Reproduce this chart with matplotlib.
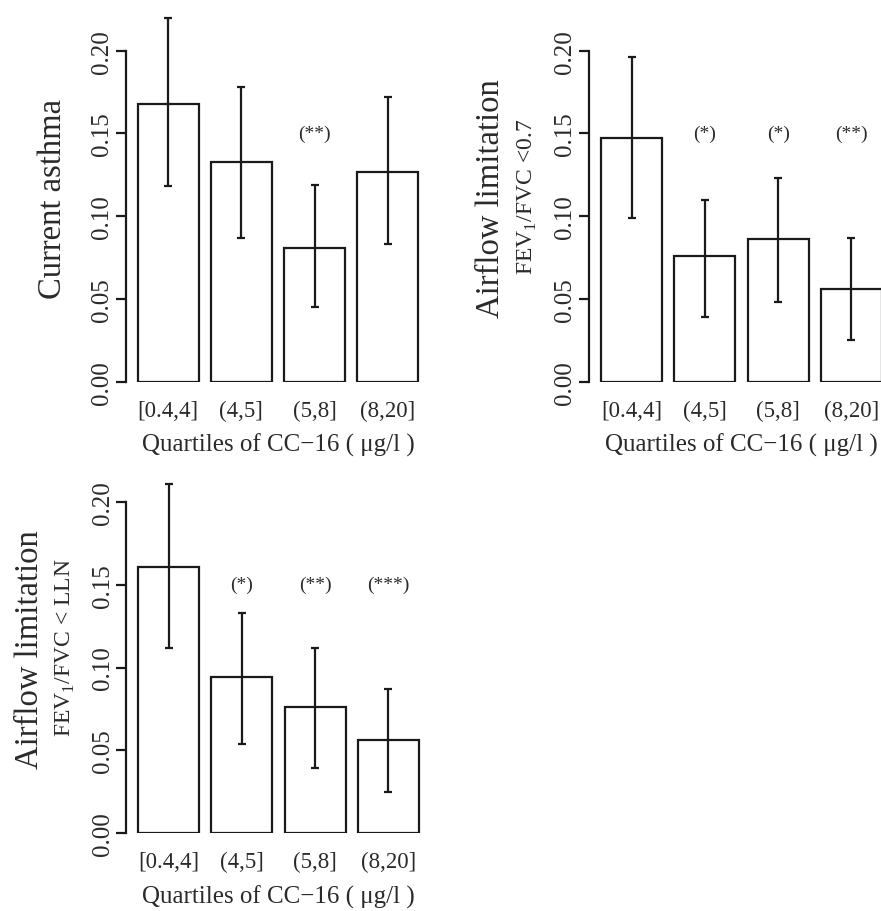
import matplotlib
matplotlib.use('Agg')
import matplotlib.pyplot as plt

plt.rcParams['font.family'] = ['Liberation Serif', 'DejaVu Serif']
plt.rcParams['mathtext.fontset'] = 'custom'
plt.rcParams['mathtext.rm'] = 'Liberation Serif'

# Data
quartiles = ['[0.4,4]', '(4,5]', '(5,8]', '(8,20]']
yticks = [0.00, 0.05, 0.10, 0.15, 0.20]

asthma = [0.168, 0.133, 0.081, 0.127]
asthma_lo = [0.118, 0.087, 0.045, 0.083]
asthma_hi = [0.220, 0.178, 0.119, 0.172]
asthma_sig = ['', '', '(**)', '']

fev_07 = [0.147, 0.076, 0.086, 0.056]
fev_07_lo = [0.099, 0.039, 0.048, 0.025]
fev_07_hi = [0.196, 0.110, 0.123, 0.087]
fev_07_sig = ['', '(*)', '(*)', '(**)']

fev_lln = [0.161, 0.094, 0.076, 0.056]
fev_lln_lo = [0.112, 0.054, 0.039, 0.025]
fev_lln_hi = [0.211, 0.133, 0.112, 0.087]
fev_lln_sig = ['', '(*)', '(**)', '(***)']

xlab = 'Quartiles of CC\u221216 ( \u03bcg/l )'

W, H = 881, 912
sx, sy = 61, 1655          # pixels per data unit
centers = [0.7, 1.9, 3.1, 4.3]
ink = '#1a1a1a'
txt = '#2a2a2a'

fig = plt.figure(figsize=(W / 100, H / 100), dpi=100)


def panel(x0, y0, vals, lo, hi, sig, label, sublabel, dx_lab, dx_sub):
    ax = fig.add_axes([x0 / W, (H - y0) / H, 4.9 * sx / W, 0.235 * sy / H])
    ax.patch.set_visible(False)
    ax.bar(centers, vals, width=1, facecolor='white', edgecolor=ink, linewidth=1.6)
    yerr = [[v - l for v, l in zip(vals, lo)], [h - v for v, h in zip(vals, hi)]]
    ax.errorbar(centers, vals, yerr=yerr, fmt='none', ecolor=ink, elinewidth=1.6,
                capsize=2.6, capthick=1.6, clip_on=False)
    for c, s in zip(centers, sig):
        if s:
            ax.text(c, 0.15, s, ha='center', va='center', fontsize=14, color=txt)

    ax.set_xlim(0, 4.9)
    ax.set_ylim(0, 0.235)
    for s in ['top', 'right', 'bottom']:
        ax.spines[s].set_visible(False)
    ax.spines['left'].set_bounds(0, 0.2)
    ax.spines['left'].set_linewidth(1.6)
    ax.spines['left'].set_color(ink)

    ax.set_yticks(yticks)
    ax.set_yticklabels(['%.2f' % t for t in yticks], rotation=90, va='center')
    ax.tick_params(axis='y', length=7, width=1.6, pad=2, labelsize=18,
                   color=ink, labelcolor=txt)
    ax.set_xticks(centers)
    ax.set_xticklabels(quartiles)
    ax.tick_params(axis='x', length=0, pad=13, labelsize=16.5, labelcolor=txt)

    ax.annotate(xlab, xy=(2.5, 0), xytext=(0, -63), textcoords='offset pixels',
                ha='center', va='center', fontsize=18, color=txt, annotation_clip=False)
    ax.annotate(label, xy=(0, 0), xytext=(dx_lab, 184), textcoords='offset pixels',
                ha='center', va='center', rotation=90, fontsize=23.5, color=txt,
                annotation_clip=False)
    if sublabel:
        ax.annotate(sublabel, xy=(0, 0), xytext=(dx_sub, 186), textcoords='offset pixels',
                    ha='center', va='center', rotation=90, fontsize=17, color=txt,
                    annotation_clip=False)
    return ax


panel(125.5, 382.7, asthma, asthma_lo, asthma_hi, asthma_sig,
      'Current asthma', None, -73, 0)
panel(589, 382.7, fev_07, fev_07_lo, fev_07_hi, fev_07_sig,
      'Airflow limitation', 'FEV$_1$/FVC <0.7', -98, -62)
panel(126, 834, fev_lln, fev_lln_lo, fev_lln_hi, fev_lln_sig,
      'Airflow limitation', 'FEV$_1$/FVC < LLN', -96, -61)

fig.savefig('out.png', dpi=100)
